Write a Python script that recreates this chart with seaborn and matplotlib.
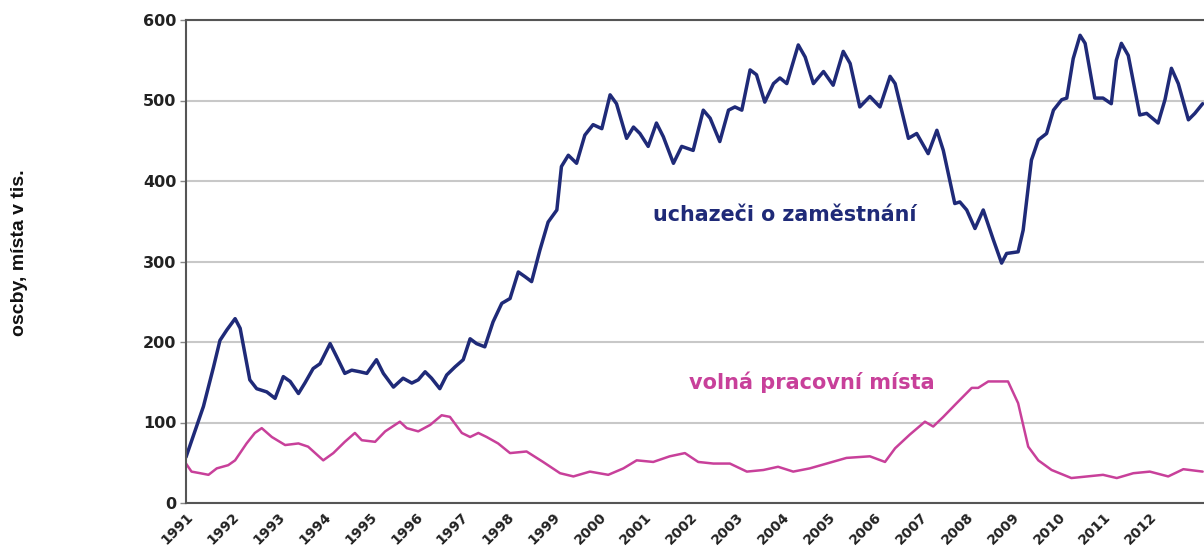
import matplotlib
matplotlib.use("Agg")
import matplotlib.pyplot as plt
import seaborn as sns
import pandas as pd

# uchazeči o zaměstnání (tis.)
blue_t = [1991.00, 1991.38, 1991.60, 1991.74, 1991.89, 1992.07, 1992.18, 1992.39, 1992.54, 1992.76,
          1992.94, 1993.12, 1993.27, 1993.45, 1993.59, 1993.77, 1993.92, 1994.14, 1994.28, 1994.46,
          1994.61, 1994.79, 1994.94, 1995.15, 1995.30, 1995.52, 1995.73, 1995.92, 1996.06, 1996.21,
          1996.35, 1996.53, 1996.68, 1996.86, 1997.04, 1997.19, 1997.33, 1997.51, 1997.69, 1997.88,
          1998.06, 1998.24, 1998.39, 1998.53, 1998.71, 1998.89, 1999.08, 1999.18, 1999.33, 1999.51,
          1999.69, 1999.87, 2000.06, 2000.24, 2000.38, 2000.60, 2000.75, 2000.89, 2001.07, 2001.25,
          2001.40, 2001.62, 2001.80, 2002.05, 2002.27, 2002.42, 2002.63, 2002.82, 2002.96, 2003.11,
          2003.29, 2003.43, 2003.61, 2003.80, 2003.94, 2004.09, 2004.34, 2004.49, 2004.67, 2004.89,
          2005.10, 2005.32, 2005.47, 2005.68, 2005.90, 2006.12, 2006.34, 2006.45, 2006.74, 2006.92,
          2007.17, 2007.36, 2007.50, 2007.75, 2007.86, 2008.01, 2008.19, 2008.37, 2008.59, 2008.77,
          2008.88, 2009.13, 2009.24, 2009.42, 2009.57, 2009.75, 2009.90, 2010.08, 2010.19, 2010.33,
          2010.48, 2010.59, 2010.80, 2010.98, 2011.16, 2011.27, 2011.38, 2011.53, 2011.78, 2011.93,
          2012.18, 2012.33, 2012.47, 2012.62, 2012.84, 2012.98, 2013.15]
blue_v = [57, 120, 169, 202, 215, 229, 217, 153, 142, 138,
          130, 157, 151, 136, 149, 167, 173, 198, 182, 161,
          165, 163, 161, 178, 161, 144, 155, 149, 153, 163,
          155, 142, 159, 169, 178, 204, 198, 194, 225, 248,
          254, 287, 281, 275, 314, 349, 364, 418, 432, 422,
          457, 470, 465, 507, 496, 453, 467, 459, 443, 472,
          455, 422, 443, 438, 488, 478, 449, 488, 492, 488,
          538, 532, 498, 521, 528, 521, 569, 554, 521, 536,
          519, 561, 546, 492, 505, 492, 530, 521, 453, 459,
          434, 463, 438, 372, 374, 364, 341, 364, 327, 298,
          310, 312, 339, 426, 451, 459, 488, 501, 503, 552,
          581, 571, 503, 503, 496, 550, 571, 556, 482, 484,
          472, 501, 540, 521, 476, 484, 496]

# volná pracovní místa (tis.)
pink_t = [1991.00, 1991.12, 1991.31, 1991.49, 1991.67, 1991.92, 1992.07, 1992.32, 1992.50, 1992.65,
          1992.87, 1993.16, 1993.45, 1993.66, 1993.99, 1994.21, 1994.46, 1994.68, 1994.83, 1995.12,
          1995.34, 1995.66, 1995.81, 1996.06, 1996.32, 1996.57, 1996.75, 1997.01, 1997.19, 1997.37,
          1997.55, 1997.80, 1998.06, 1998.42, 1998.78, 1999.15, 1999.44, 1999.80, 2000.20, 2000.53,
          2000.82, 2001.18, 2001.54, 2001.87, 2002.16, 2002.49, 2002.85, 2003.22, 2003.58, 2003.90,
          2004.23, 2004.59, 2004.96, 2005.39, 2005.90, 2006.23, 2006.45, 2006.77, 2007.10, 2007.28,
          2007.50, 2007.79, 2008.12, 2008.26, 2008.48, 2008.91, 2009.13, 2009.35, 2009.57, 2009.86,
          2010.29, 2010.98, 2011.28, 2011.64, 2012.00, 2012.40, 2012.73, 2013.15]
pink_v = [49, 39, 37, 35, 43, 47, 53, 74, 87, 93,
          82, 72, 74, 70, 53, 62, 76, 87, 78, 76,
          89, 101, 93, 89, 97, 109, 107, 87, 82, 87,
          82, 74, 62, 64, 51, 37, 33, 39, 35, 43,
          53, 51, 58, 62, 51, 49, 49, 39, 41, 45,
          39, 43, 49, 56, 58, 51, 68, 85, 101, 95,
          107, 124, 143, 143, 151, 151, 124, 70, 53, 41,
          31, 35, 31, 37, 39, 33, 42, 39]

years = list(range(1991, 2013))

BLUE = "#1f2a78"
PINK = "#c8409a"

sns.set_style("white")
plt.rcParams["font.family"] = ["DejaVu Sans"]

fig = plt.figure(figsize=(12.04, 5.47), dpi=100)
ax = fig.add_axes([186 / 1204, 44 / 547, 1 - 186 / 1204, 483 / 547])

blue_df = pd.DataFrame({"rok": blue_t, "pocet": blue_v})
pink_df = pd.DataFrame({"rok": pink_t, "pocet": pink_v})
sns.lineplot(data=pink_df, x="rok", y="pocet", ax=ax, color=PINK, lw=1.8, sort=False)
sns.lineplot(data=blue_df, x="rok", y="pocet", ax=ax, color=BLUE, lw=2.5, sort=False)
for ln in ax.lines:
    ln.set_solid_joinstyle("round")

ax.set_xlim(1991.0, 2013.18)
ax.set_ylim(0, 600)
ax.set_yticks(range(0, 601, 100))
ax.set_xticks(years)
ax.set_xticklabels([str(y) for y in years], rotation=45, ha="right", va="top",
                   rotation_mode="anchor", fontweight="bold", fontsize=10, color="#222222")
ax.set_yticklabels([str(v) for v in range(0, 601, 100)], fontweight="bold", fontsize=11.5,
                   color="#222222")
ax.tick_params(axis="x", length=0, pad=5)
ax.tick_params(axis="y", length=4, width=1, color="#888888", pad=3, left=True)
ax.set_xlabel("")
ax.set_ylabel("")

ax.yaxis.grid(True, color="#c8c8c8", lw=1.5)
ax.xaxis.grid(False)
ax.set_axisbelow(True)

for side in ["left", "top", "bottom"]:
    ax.spines[side].set_color("#555555")
    ax.spines[side].set_linewidth(1.5)
ax.spines["right"].set_visible(False)

ax.text(2004.05, 358, "uchazeči o zaměstnání", color=BLUE, fontsize=14.9, fontweight="bold",
        ha="center", va="center")
ax.text(2004.64, 150, "volná pracovní místa", color=PINK, fontsize=15, fontweight="bold",
        ha="center", va="center")

fig.text(20 / 1204, 1 - 253 / 547, "oscby, místa v tis.", rotation=90, ha="center", va="center",
         fontsize=14, fontweight="bold", color="#111111", family=["Liberation Sans", "DejaVu Sans"])

fig.savefig("out.png", dpi=100)
